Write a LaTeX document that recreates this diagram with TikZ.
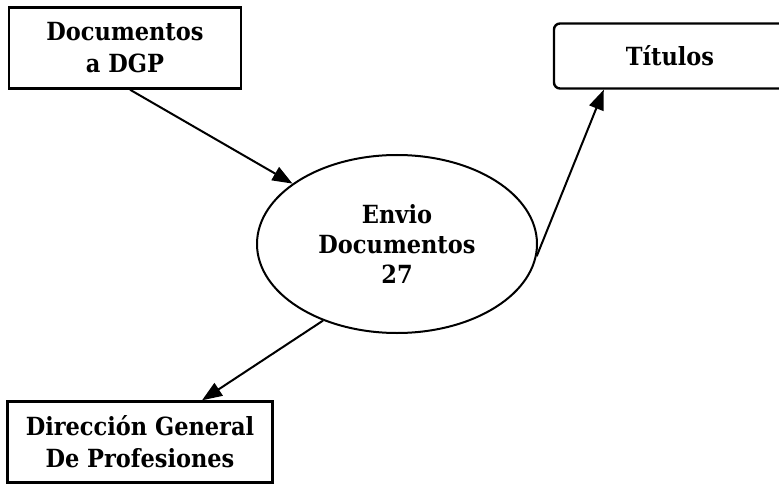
\documentclass[tikz,border=0pt]{standalone}
\usepackage{fontspec}
\setmainfont{DejaVu Serif Condensed}[BoldFont={DejaVu Serif Condensed Bold}]
\usetikzlibrary{arrows.meta,shapes.geometric}

\tikzset{
  entity/.style={draw, line width=2.4pt, rectangle, align=center, inner sep=0pt},
  process/.style={draw, line width=2pt, ellipse, align=center, inner sep=0pt},
  flow/.style={line width=2pt, -{Triangle[length=20pt,width=15pt]}},
  lbl/.style={font=\fontsize{25}{32}\selectfont\bfseries}
}

\begin{document}
\begin{tikzpicture}[x=1pt, y=-1pt]
  \useasboundingbox (0,0) rectangle (779,484);
  \clip (0,0) rectangle (779,484);

  % external entities and the process
  \node[entity, lbl, minimum width=232pt, minimum height=81pt] (docs) at (125,48) {Documentos\\a DGP};
  \node[entity, lbl, rounded corners=6pt, minimum width=232pt, minimum height=65pt] (tit) at (670,56) {Títulos};
  \node[entity, lbl, minimum width=265pt, minimum height=81pt] (dir) at (140,442) {Dirección General\\De Profesiones};
  \node[process, lbl, font=\fontsize{25}{30}\selectfont\bfseries, minimum width=280pt, minimum height=178pt] (env) at (397,244) {Envio\\Documentos\\27};

  % data flows
  \draw[flow] ([xshift=5pt]docs.south) -- (env);
  \draw[flow] (env.-5) -- ([xshift=51pt]tit.south west);
  \draw[flow] (env.226) -- ([xshift=62pt]dir.north);
\end{tikzpicture}
\end{document}
